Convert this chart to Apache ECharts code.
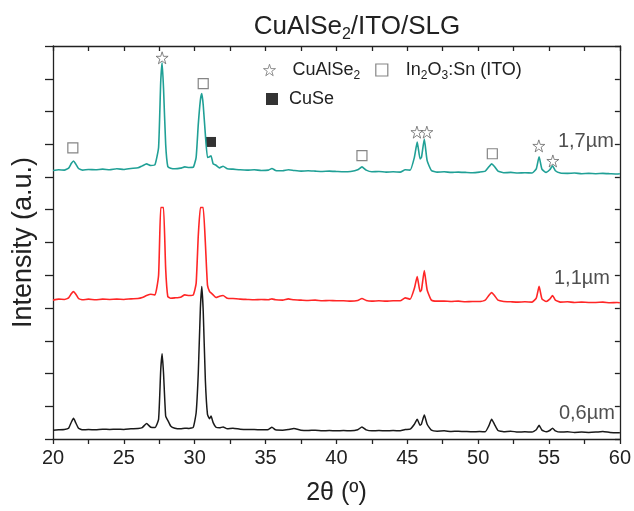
<!DOCTYPE html>
<html>
<head>
<meta charset="utf-8">
<script src="https://cdn.jsdelivr.net/npm/echarts@6/dist/echarts.min.js"></script>
<style>
html,body{margin:0;padding:0;background:#fff;}
#chart{width:634px;height:511px;}
</style>
</head>
<body>
<div id="chart"></div>
<script>
// 2θ positions (degrees), shared by the three patterns
const twoTheta = [20.0,20.4,20.8,21.1,21.3,21.45,21.6,21.8,22.1,22.5,23.0,23.5,24.0,24.5,25.0,25.5,26.0,26.3,26.6,26.9,
27.2,27.45,27.6,27.7,27.8,27.95,28.1,28.3,28.6,29.0,29.3,29.6,29.9,30.1,30.25,30.4,30.5,30.6,30.75,30.9,
31.05,31.15,31.3,31.5,31.75,32.0,32.3,32.7,33.2,33.7,34.2,34.7,35.2,35.45,35.7,36.2,36.6,37.0,37.5,38.0,
38.5,39.0,39.5,40.0,40.5,41.0,41.5,41.8,42.1,42.5,43.0,43.5,44.0,44.5,44.85,45.2,45.5,45.7,45.9,46.0,
46.2,46.4,46.7,47.1,47.6,48.1,48.6,49.1,49.6,50.1,50.5,50.75,50.95,51.15,51.4,51.8,52.3,52.8,53.3,53.8,
54.1,54.3,54.5,54.8,55.05,55.25,55.45,55.8,56.3,56.8,57.3,57.8,58.3,58.8,59.3,59.8,60.0];

// Intensity (a.u., offset traces as plotted)
const film06 = [0.27,0.28,0.29,0.33,0.52,0.63,0.50,0.33,0.28,0.29,0.28,0.30,0.29,0.30,0.29,0.31,0.32,0.35,0.47,0.36,
0.35,0.60,2.10,2.60,2.00,0.70,0.57,0.40,0.33,0.31,0.33,0.32,0.36,0.80,2.00,4.00,4.66,3.90,1.80,0.75,
0.62,0.70,0.50,0.36,0.34,0.37,0.31,0.33,0.30,0.29,0.29,0.28,0.29,0.36,0.28,0.27,0.29,0.32,0.27,0.26,
0.27,0.25,0.26,0.25,0.26,0.25,0.28,0.37,0.28,0.25,0.26,0.25,0.26,0.25,0.29,0.30,0.45,0.60,0.42,0.46,
0.73,0.45,0.27,0.24,0.25,0.23,0.24,0.23,0.22,0.23,0.22,0.40,0.60,0.45,0.26,0.22,0.24,0.21,0.22,0.21,
0.28,0.42,0.27,0.22,0.26,0.33,0.25,0.21,0.22,0.20,0.21,0.20,0.21,0.23,0.20,0.19,0.19];

const film11 = [4.24,4.27,4.26,4.31,4.44,4.50,4.43,4.29,4.25,4.27,4.25,4.27,4.26,4.27,4.26,4.28,4.29,4.32,4.38,4.42,
4.40,5.00,7.07,7.07,7.07,5.20,4.35,4.30,4.31,4.33,4.40,4.38,4.40,4.75,6.20,7.07,7.07,7.07,6.00,4.70,
4.50,4.46,4.40,4.32,4.36,4.38,4.30,4.29,4.27,4.26,4.25,4.26,4.25,4.28,4.25,4.24,4.28,4.25,4.24,4.23,
4.24,4.22,4.23,4.22,4.22,4.21,4.23,4.29,4.23,4.21,4.22,4.21,4.22,4.22,4.31,4.27,4.60,4.96,4.50,4.55,
5.14,4.55,4.24,4.21,4.21,4.20,4.21,4.19,4.20,4.20,4.24,4.38,4.47,4.38,4.24,4.20,4.19,4.18,4.19,4.18,
4.30,4.66,4.28,4.20,4.27,4.38,4.24,4.18,4.19,4.17,4.18,4.17,4.17,4.18,4.16,4.17,4.16];

const film17 = [8.20,8.22,8.21,8.27,8.42,8.49,8.40,8.26,8.21,8.23,8.22,8.24,8.22,8.25,8.23,8.26,8.28,8.34,8.40,8.35,
8.38,8.90,10.90,11.49,10.70,9.00,8.32,8.27,8.25,8.27,8.31,8.29,8.30,8.60,9.60,10.35,10.55,10.20,9.30,8.60,
8.62,8.65,8.40,8.36,8.28,8.33,8.25,8.24,8.22,8.21,8.22,8.20,8.21,8.26,8.20,8.19,8.22,8.20,8.18,8.19,
8.18,8.17,8.18,8.17,8.16,8.17,8.22,8.31,8.21,8.16,8.17,8.15,8.16,8.15,8.22,8.21,8.60,9.07,8.55,8.60,
9.16,8.50,8.20,8.15,8.16,8.14,8.15,8.14,8.13,8.15,8.18,8.31,8.40,8.32,8.18,8.13,8.14,8.12,8.13,8.12,
8.25,8.62,8.24,8.14,8.22,8.34,8.19,8.12,8.11,8.12,8.10,8.11,8.10,8.11,8.10,8.09,8.10];

// Phase markers on the 1,7 µm pattern
const starX = [27.7,45.68,46.38,54.28,55.27];
const starY = [11.64,9.37,9.37,8.95,8.49];
const itoX = [21.4,30.6,41.8,51.0];
const itoY = [8.89,10.85,8.65,8.71];
const cuseX = [31.15];
const cuseY = [9.07];

// Thickness labels
const thickText = ['1,7µm','1,1µm','0,6µm'];
const thickX = [59.58,59.30,59.65];
const thickY = [9.07,4.90,0.79];

const xTicks = [20,25,30,35,40,45,50,55,60];

const FONT = '"Liberation Sans", Arial, sans-serif';
const starPath = 'path://M50,2 L61,36 L97,36 L68,57 L79,92 L50,71 L21,92 L32,57 L3,36 L39,36 Z';

const pairs = (xs, ys) => xs.map((x, i) => [x, ys[i]]);

const chart = echarts.init(document.getElementById('chart'), null, {renderer: 'canvas'});

const axisLineStyle = {color: '#222', width: 1.3};

const legendRich = {
  g: {width: 1},
  n: {fontFamily: FONT, fontSize: 18, color: '#222', lineHeight: 22},
  s: {fontFamily: FONT, fontSize: 12, color: '#222', lineHeight: 12, padding: [12, 0, 0, 0]}
};

const option = {
  animation: false,
  backgroundColor: '#fff',
  title: {
    text: '{t|CuAlSe}{s|2}{t|/ITO/SLG}',
    left: 352, top: 7, textAlign: 'center',
    textStyle: {
      fontWeight: 'normal',
      rich: {
        t: {fontFamily: FONT, fontSize: 26, fontWeight: 'normal', color: '#222', lineHeight: 30},
        s: {fontFamily: FONT, fontSize: 16, fontWeight: 'normal', color: '#222', lineHeight: 16, padding: [16, 0, 0, 0]}
      }
    }
  },
  legend: [
    {
      left: 258, top: 53, orient: 'horizontal', itemWidth: 12, itemHeight: 12, itemGap: 15,
      data: [
        {name: 'CuAlSe2', itemStyle: {color: '#fff', borderColor: '#777', borderWidth: 1}},
        {name: 'ITO', itemStyle: {color: '#fff', borderColor: '#666', borderWidth: 1.2}}
      ],
      formatter: function (n) {
        return n === 'CuAlSe2' ? '{n|CuAlSe}{s|2}' : '{g|}{n|In}{s|2}{n|O}{s|3}{n|:Sn (ITO)}';
      },
      textStyle: {padding: [0, 0, 0, 12], rich: legendRich}
    },
    {
      left: 261, top: 85, itemWidth: 12, itemHeight: 12,
      data: [{name: 'CuSe', itemStyle: {color: '#000', borderWidth: 0}}],
      textStyle: {fontFamily: FONT, fontSize: 18, color: '#222', padding: [0, 0, 0, 6]}
    }
  ],
  grid: {left: 53, right: 14, top: 46, bottom: 68, containLabel: false},
  xAxis: [
    {
      type: 'value', position: 'bottom', min: 20, max: 60, interval: 5,
      name: '2θ (º)', nameLocation: 'middle', nameGap: 42,
      nameTextStyle: {fontFamily: FONT, fontSize: 25, color: '#222'},
      axisLine: {show: true, onZero: false, lineStyle: axisLineStyle},
      axisTick: {show: true, inside: false, length: 5, lineStyle: axisLineStyle},
      minorTick: {show: true, splitNumber: 2, length: 5, lineStyle: axisLineStyle},
      axisLabel: {fontFamily: FONT, fontSize: 20, color: '#222', margin: 9,
        formatter: v => (xTicks.indexOf(v) >= 0 ? String(v) : '')},
      splitLine: {show: false}
    },
    {
      type: 'value', position: 'top', min: 20, max: 60, interval: 5,
      axisLine: {show: true, onZero: false, lineStyle: axisLineStyle},
      axisTick: {show: true, inside: true, length: 5, lineStyle: axisLineStyle},
      minorTick: {show: true, splitNumber: 2, length: 5, lineStyle: axisLineStyle},
      axisLabel: {show: false},
      splitLine: {show: false}
    }
  ],
  yAxis: [
    {
      type: 'value', position: 'left', min: 0, max: 12, interval: 1,
      name: 'Intensity (a.u.)', nameLocation: 'middle', nameGap: 16,
      nameTextStyle: {fontFamily: FONT, fontSize: 27, color: '#222'},
      axisLine: {show: true, onZero: false, lineStyle: axisLineStyle},
      axisTick: {show: true, inside: false, length: 8, lineStyle: axisLineStyle},
      axisLabel: {show: false},
      splitLine: {show: false}
    },
    {
      type: 'value', position: 'right', min: 0, max: 12, interval: 1,
      axisLine: {show: true, onZero: false, lineStyle: axisLineStyle},
      axisTick: {show: true, inside: true, length: 5, lineStyle: axisLineStyle},
      axisLabel: {show: false},
      splitLine: {show: false}
    }
  ],
  series: [
    {
      name: '0,6µm', type: 'line', xAxisIndex: 0, yAxisIndex: 0,
      data: pairs(twoTheta, film06), showSymbol: false, smooth: 0.15,
      lineStyle: {color: '#1a1a1a', width: 1.5}, itemStyle: {color: '#1a1a1a'}
    },
    {
      name: '1,1µm', type: 'line', xAxisIndex: 0, yAxisIndex: 0,
      data: pairs(twoTheta, film11), showSymbol: false, smooth: 0.15,
      lineStyle: {color: '#ff2626', width: 1.6}, itemStyle: {color: '#ff2626'}
    },
    {
      name: '1,7µm', type: 'line', xAxisIndex: 0, yAxisIndex: 0,
      data: pairs(twoTheta, film17), showSymbol: false, smooth: 0.15,
      lineStyle: {color: '#20a096', width: 1.6}, itemStyle: {color: '#20a096'}
    },
    {
      name: 'CuAlSe2', type: 'scatter', xAxisIndex: 0, yAxisIndex: 0,
      data: pairs(starX, starY), symbol: starPath, symbolSize: 12,
      itemStyle: {color: '#fff', borderColor: '#666', borderWidth: 1}
    },
    {
      name: 'ITO', type: 'scatter', xAxisIndex: 0, yAxisIndex: 0,
      data: pairs(itoX, itoY), symbol: 'rect', symbolSize: 10,
      itemStyle: {color: '#fff', borderColor: '#666', borderWidth: 1.2}
    },
    {
      name: 'CuSe', type: 'scatter', xAxisIndex: 0, yAxisIndex: 0,
      data: pairs(cuseX, cuseY), symbol: 'rect', symbolSize: 10,
      itemStyle: {color: '#000', borderColor: '#000', borderWidth: 0}
    },
    {
      name: 'thickness', type: 'scatter', xAxisIndex: 0, yAxisIndex: 0,
      data: thickX.map((x, i) => ({value: [x, thickY[i]], label: {formatter: thickText[i]}})),
      symbolSize: 0, silent: true,
      label: {show: true, position: 'left', distance: 0,
        fontFamily: FONT, fontSize: 20, color: '#222'}
    }
  ]
};
chart.setOption(option);
</script>
</body>
</html>
